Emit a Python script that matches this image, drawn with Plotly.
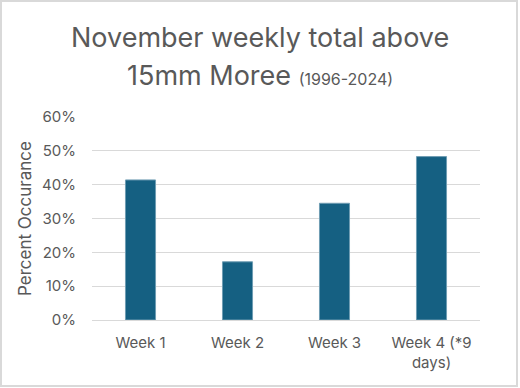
import plotly.graph_objects as go

categories = ["Week 1", "Week 2", "Week 3", "Week 4 (*9<br>days)"]
values = [0.414, 0.172, 0.345, 0.483]
ytick_vals = [0, 0.1, 0.2, 0.3, 0.4, 0.5, 0.6]
ytick_text = ["0%", "10%", "20%", "30%", "40%", "50%", "60%"]
title_line1 = "November weekly total above"
title_line2 = "15mm Moree <span style='font-size:16px'>(1996-2024)</span>"

FONT = "Inter, Noto Sans, sans-serif"
GREY = "#595959"
W, H = 520, 388
L, R, T, B = 92, 40, 117, 68
PW, PH = W - L - R, H - T - B

def px(x):
    return (x - L) / PW

def py(y):
    return (H - B - y) / PH

fig = go.Figure(go.Bar(
    x=categories, y=values,
    marker=dict(color="#156082", line=dict(color="#6f9db3", width=1)),
    width=0.31,
))

fig.update_layout(
    width=W, height=H,
    margin=dict(l=L, r=R, t=T, b=B),
    paper_bgcolor="white", plot_bgcolor="white",
    font=dict(family=FONT, color=GREY),
    showlegend=False,
    xaxis=dict(
        showgrid=False, showline=True, linecolor="#d9d9d9", linewidth=1,
        ticks="", tickfont=dict(size=15, color=GREY), ticklabelstandoff=9,
    ),
    yaxis=dict(
        range=[0, 0.6], tickvals=ytick_vals, ticktext=ytick_text,
        showgrid=True, gridcolor="#d9d9d9", gridwidth=1, zeroline=False,
        tickfont=dict(size=15, color=GREY), ticklabelstandoff=15,
        title=dict(text="Percent Occurance", font=dict(size=17, color=GREY), standoff=6),
    ),
    annotations=[
        dict(text=title_line1, xref="paper", yref="paper", x=px(260), y=py(37),
             xanchor="center", yanchor="middle", showarrow=False,
             font=dict(size=27, color=GREY, family=FONT)),
        dict(text=title_line2, xref="paper", yref="paper", x=px(260), y=py(75),
             xanchor="center", yanchor="middle", showarrow=False,
             font=dict(size=27, color=GREY, family=FONT)),
    ],
    shapes=[dict(type="rect", xref="paper", yref="paper", x0=px(1), x1=px(517),
                 y0=py(386), y1=py(1), line=dict(color="#d9d9d9", width=2),
                 layer="below")],
)

fig.write_html("out.html", config={"displayModeBar": False},
               post_script="document.body.style.margin='0';")
